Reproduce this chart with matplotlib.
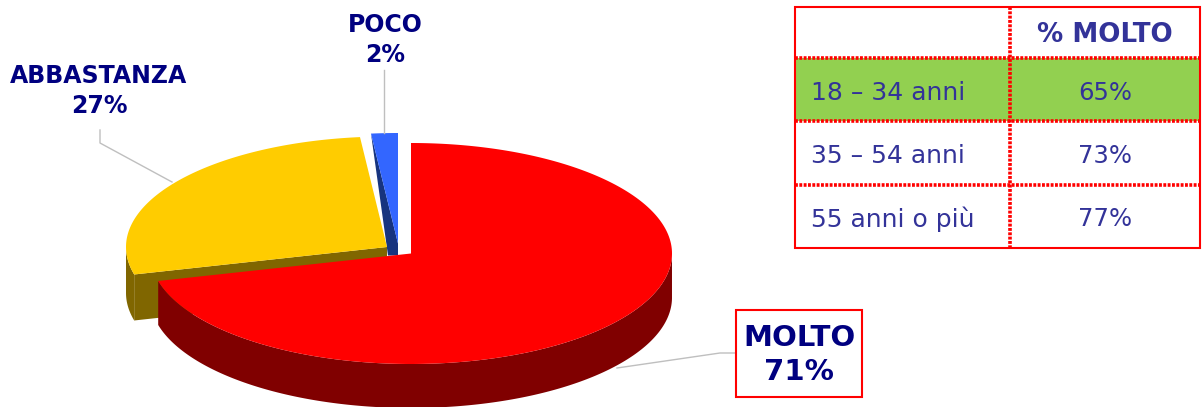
import numpy as np
import matplotlib
matplotlib.use('Agg')
import matplotlib.pyplot as plt
from matplotlib.patches import Polygon, Rectangle

categories = ['MOLTO', 'ABBASTANZA', 'POCO']
shares = [71, 27.35, 1.65]
age_groups = ['18 – 34 anni', '35 – 54 anni', '55 anni o più']
pct_molto = [65, 73, 77]
table_header = '% MOLTO'

colors = ['#FF0000', '#FFCC00', '#3366FF']
dark_colors = ['#800000', '#806600', '#17347F']
navy = '#000080'
table_blue = '#333399'
grey = '#BFBFBF'

# every slice has its own exploded centre, in pixels
centers = [(411, 253.5), (387, 247), (398, 243.5)]
depths = [44, 46, 44]
rx, ry = 261, 110.5


def rim(center, a0, a1):
    t = np.radians(np.linspace(a0, a1, 300))
    return t, np.column_stack([center[0] + rx * np.sin(t), center[1] - ry * np.cos(t)])


fig = plt.figure(figsize=(12.02, 4.07), dpi=100)
ax = fig.add_axes([0, 0, 1, 1])
ax.set_xlim(0, 1202)
ax.set_ylim(407, 0)
ax.axis('off')

edges = np.cumsum([0] + shares) / sum(shares) * 360

# leader lines
ax.plot([100, 100, 172], [130, 143, 182], color=grey, lw=1)
ax.plot([384, 384], [70, 133], color=grey, lw=1)
ax.plot([617, 720, 736], [368, 353, 353], color=grey, lw=1)

# draw back to front: poco, abbastanza, molto
for i in [2, 1, 0]:
    c, d = centers[i], depths[i]
    t, pts = rim(c, edges[i], edges[i + 1])
    if i == 0:
        vis = pts[t > np.pi / 2]
        ax.add_patch(Polygon(np.vstack([vis, (vis + [0, d])[::-1]]), color=dark_colors[i], lw=0, zorder=4))
    elif i == 1:
        vis = pts[t < 1.5 * np.pi]
        ax.add_patch(Polygon(np.vstack([vis, (vis + [0, d])[::-1]]), color=dark_colors[i], lw=0, zorder=2))
        ax.add_patch(Polygon([pts[0], c, (c[0], c[1] + d), pts[0] + [0, d]], color=dark_colors[i], lw=0, zorder=2))
    else:
        ax.add_patch(Polygon([pts[0], c, (c[0], c[1] + 12), (c[0] - 10, c[1] + 12)], color=dark_colors[i], lw=0, zorder=1))
    ax.add_patch(Polygon(np.vstack([pts, c]), color=colors[i], lw=0, zorder={0: 5, 1: 3, 2: 1}[i]))

# labels
ax.text(385, 40, f'{categories[2]}\n{shares[2]:.0f}%', color=navy, fontsize=17, fontweight='bold',
        ha='center', va='center', linespacing=1.35)
ax.text(99, 91, f'{categories[1]}\n{shares[1]:.0f}%', color=navy, fontsize=17, fontweight='bold',
        ha='center', va='center', linespacing=1.35)
ax.add_patch(Rectangle((736, 310), 126, 87, fc='white', ec='#FF0000', lw=1.5, zorder=6))
ax.text(799, 355, f'{categories[0]}\n{shares[0]:.0f}%', color=navy, fontsize=21, fontweight='bold',
        ha='center', va='center', linespacing=1.25, zorder=7)

# table
col_x = [795, 1010, 1200]
row_y = [7, 58, 121, 185, 248]
ax.add_patch(Rectangle((col_x[0], row_y[1]), col_x[2] - col_x[0], row_y[2] - row_y[1], fc='#92D050', ec='none'))
for y in row_y[1:-1]:
    ax.plot(col_x[::2], [y, y], color='#FF0000', lw=2.6, ls=(0, (0.8, 0.4)))
ax.plot([col_x[1], col_x[1]], [row_y[0], row_y[-1]], color='#FF0000', lw=2.6, ls=(0, (0.8, 0.4)))
ax.add_patch(Rectangle((col_x[0], row_y[0]), col_x[2] - col_x[0], row_y[-1] - row_y[0], fc='none', ec='#FF0000', lw=1.5))

ax.text((col_x[1] + col_x[2]) / 2, (row_y[0] + row_y[1]) / 2 + 2, table_header, color=table_blue,
        fontsize=18.8, fontweight='bold', ha='center', va='center')
for r, (lab, val) in enumerate(zip(age_groups, pct_molto)):
    ym = (row_y[r + 1] + row_y[r + 2]) / 2 + 3
    ax.text(811, ym, lab, color=table_blue, fontsize=18, ha='left', va='center')
    ax.text((col_x[1] + col_x[2]) / 2, ym, f'{val}%', color=table_blue, fontsize=17.5, ha='center', va='center')

fig.savefig('out.png', dpi=100)
